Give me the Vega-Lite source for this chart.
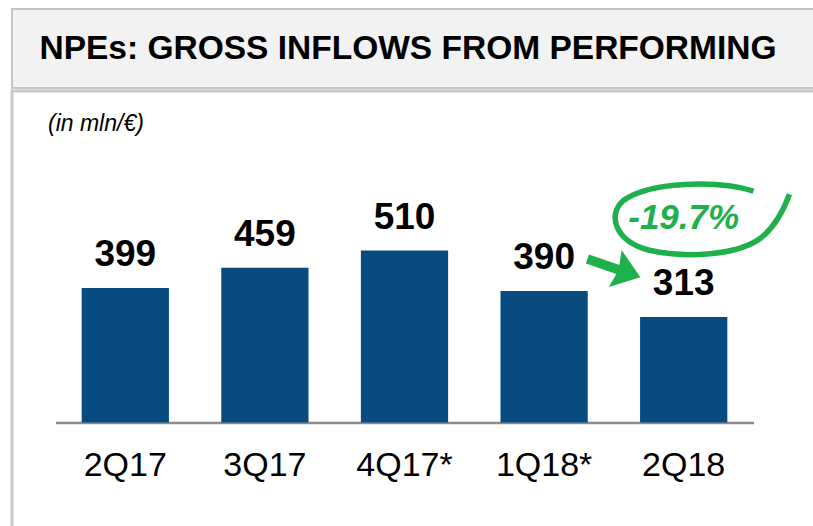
{
  "$schema": "https://vega.github.io/schema/vega-lite/v6.json",
  "padding": {"left": 10, "top": 8, "right": 0, "bottom": 0},
  "autosize": {"type": "pad"},
  "background": "white",
  "spacing": 0,
  "config": {"font": "Liberation Sans"},
  "datasets": {
    "header": [{"t": "NPEs: GROSS INFLOWS FROM PERFORMING"}],
    "bars": [
      {"q": "2Q17", "v": 399},
      {"q": "3Q17", "v": 459},
      {"q": "4Q17*", "v": 510},
      {"q": "1Q18*", "v": 390},
      {"q": "2Q18", "v": 313}
    ],
    "ellipse": [{"x": 4.57, "y": 601}],
    "arrow": [{"x": 4.0, "y": 458}],
    "change": [{"x": 4.5, "y": 607, "text": "-19.7%"}]
  },
  "vconcat": [
    {
      "width": 810,
      "height": 79,
      "view": {"fill": "#f2f2f2", "stroke": "#c4c4c4", "strokeWidth": 2},
      "data": {"name": "header"},
      "mark": {"type": "text", "font": "Liberation Sans", "fontSize": 33.5, "fontWeight": "bold", "color": "#000000", "baseline": "middle", "align": "center", "dx": -9, "dy": 0},
      "encoding": {"text": {"field": "t"}}
    },
    {
      "width": 810,
      "height": 440,
      "view": {"fill": "white", "stroke": "#c8c8c8", "strokeWidth": 3},
      "title": {"text": "(in mln/€)", "anchor": "start", "frame": "group", "orient": "top", "offset": -63, "baseline": "alphabetic", "dx": 36, "font": "Liberation Sans", "fontStyle": "italic", "fontWeight": "normal", "fontSize": 23, "color": "#000000"},
      "layer": [
        {
          "data": {"name": "bars"},
          "mark": {"type": "bar", "color": "#074b81"},
          "encoding": {
            "x": {"field": "q", "type": "nominal", "sort": null,
              "scale": {"range": [43.5, 741.5], "paddingInner": 0.375, "paddingOuter": 0.1875},
              "axis": {"title": null, "labelAngle": 0, "labelFontSize": 34, "labelFont": "Liberation Sans", "labelColor": "#000000", "ticks": false, "tickSize": 0, "labelPadding": 26, "domainColor": "#8c8c8c", "domainWidth": 2.5, "offset": -108.5, "grid": false}},
            "y": {"field": "v", "type": "quantitative", "scale": {"domain": [0, 700], "range": [331.5, 95.5], "nice": false}, "axis": null}
          }
        },
        {
          "data": {"name": "bars"},
          "mark": {"type": "text", "font": "Liberation Sans", "fontSize": 37, "fontWeight": "bold", "color": "#000000", "baseline": "alphabetic", "align": "center", "dy": -22},
          "encoding": {
            "x": {"field": "q", "type": "nominal", "sort": null,
              "scale": {"range": [43.5, 741.5], "paddingInner": 0.375, "paddingOuter": 0.1875}, "axis": null},
            "y": {"field": "v", "type": "quantitative", "axis": null},
            "text": {"field": "v", "type": "quantitative"}
          }
        },
        {
          "data": {"name": "ellipse"},
          "mark": {"type": "point", "shape": "M 0.75 -0.36 C 0.3 -0.5 -0.55 -0.48 -0.88 -0.24 C -1.08 -0.06 -0.98 0.27 -0.55 0.38 C -0.1 0.48 0.55 0.45 0.85 0.22 C 1.02 0.08 1.12 -0.1 1.2 -0.32", "size": 25600, "filled": false, "color": "#1db04b", "strokeWidth": 5.5, "opacity": 1},
          "encoding": {
            "x": {"field": "x", "type": "quantitative", "scale": {"domain": [0, 5], "range": [43.5, 741.5], "nice": false, "zero": false}, "axis": null},
            "y": {"field": "y", "type": "quantitative", "axis": null}
          }
        },
        {
          "data": {"name": "arrow"},
          "mark": {"type": "point", "shape": "M -1 -0.17 L 0.15 -0.17 L 0.05 -0.7 L 1 0 L 0.05 0.7 L 0.15 0.17 L -1 0.17 Z", "size": 3136, "filled": true, "color": "#1db04b", "angle": 19, "opacity": 1},
          "encoding": {
            "x": {"field": "x", "type": "quantitative", "scale": {"domain": [0, 5], "range": [43.5, 741.5], "nice": false, "zero": false}, "axis": null},
            "y": {"field": "y", "type": "quantitative", "axis": null}
          }
        },
        {
          "data": {"name": "change"},
          "mark": {"type": "text", "font": "Liberation Sans", "fontSize": 35, "fontWeight": "bold", "fontStyle": "italic", "color": "#1db04b", "baseline": "middle", "align": "center"},
          "encoding": {
            "x": {"field": "x", "type": "quantitative", "scale": {"domain": [0, 5], "range": [43.5, 741.5], "nice": false, "zero": false}, "axis": null},
            "y": {"field": "y", "type": "quantitative", "axis": null},
            "text": {"field": "text"}
          }
        }
      ],
      "resolve": {"scale": {"x": "independent"}}
    }
  ]
}
